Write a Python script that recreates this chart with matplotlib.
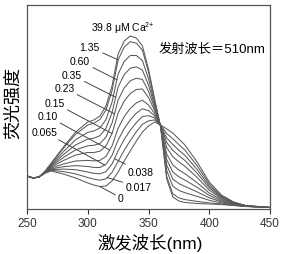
import numpy as np
import matplotlib
matplotlib.use("Agg")
import matplotlib.pyplot as plt

plt.rcParams['font.family'] = ['Liberation Sans', 'Noto Sans CJK SC', 'DejaVu Sans']
plt.rcParams['mathtext.fontset'] = 'custom'
plt.rcParams['mathtext.rm'] = 'Liberation Sans'
plt.rcParams['mathtext.it'] = 'Liberation Sans:italic'

# excitation wavelength (nm)
wl = [250, 255, 260, 265, 270, 280, 290, 300, 305, 310, 315, 320, 325, 330, 335,
      340, 345, 350, 355, 360, 365, 370, 375, 380, 390, 400, 410, 420, 430, 440, 450]

# fluorescence intensity (arb.) for each [Ca2+]
i_0 = [33, 31, 32, 36, 38, 35, 31, 26, 24, 22.5, 23, 28, 37, 48, 58,
       68, 77, 83, 87, 84, 80, 76, 70, 64, 47, 27, 14, 7, 3.5, 2.5, 1.5]
i_0017 = [33, 31, 32, 36.2, 38.7, 37.4, 35.1, 31.5, 29.9, 28.8, 30.2, 36.6, 47.6, 58.8, 68.4,
          77.3, 84.7, 88.1, 89.1, 83.8, 75.5, 70.2, 64.4, 58.8, 43.3, 25.0, 13.1, 6.7, 3.4, 2.5, 1.5]
i_0038 = [33, 31, 32, 36.4, 39.4, 39.9, 39.3, 37.0, 35.7, 35.2, 37.4, 45.1, 58.2, 69.6, 78.7,
          86.5, 92.5, 93.3, 91.1, 83.6, 71, 64.5, 58.8, 53.7, 39.5, 23.0, 12.3, 6.4, 3.3, 2.4, 1.5]
i_0065 = [33, 31, 32, 36.5, 40.2, 42.3, 43.4, 42.5, 41.6, 41.5, 44.6, 53.7, 68.9, 80.4, 89.1,
          95.8, 100.2, 98.4, 93.2, 83.5, 66.5, 58.7, 53.3, 48.5, 35.8, 21.1, 11.4, 6.1, 3.2, 2.4, 1.5]
i_010 = [33, 31, 32, 36.7, 41.0, 45.0, 48.0, 48.6, 48.1, 48.6, 52.6, 63.2, 80.7, 92.4, 100.6,
         106.1, 108.8, 104.1, 95.5, 83.3, 61.5, 52.3, 47.1, 42.7, 31.6, 18.9, 10.5, 5.7, 3.1, 2.3, 1.5]
i_015 = [33, 31, 32, 37, 42, 48.5, 54, 56.5, 56.5, 57.8, 63, 75.5, 96, 108, 115.5,
         119.5, 120, 111.5, 98.5, 83, 55, 44, 39, 35.3, 26.3, 16, 9.3, 5.3, 3.0, 2.3, 1.5]
i_023 = [33, 31, 32, 37.2, 42.9, 51.5, 59.1, 63.2, 63.7, 65.5, 71.8, 86.0, 109.0, 121.2, 128.2,
         130.8, 129.5, 117.8, 101.0, 82.8, 49.5, 37.0, 32.2, 28.9, 21.7, 13.6, 8.2, 4.9, 2.9, 2.2, 1.5]
i_035 = [33, 31, 32, 37.4, 43.8, 54.4, 64.1, 69.9, 70.8, 73.3, 80.6, 96.4, 122.0, 134.4, 140.8,
         142.2, 138.9, 124.0, 103.6, 82.6, 44, 29.9, 25.4, 22.6, 17.1, 11.2, 7.2, 4.5, 2.8, 2.1, 1.5]
i_060 = [33, 31, 32, 37.7, 44.6, 57.4, 69.2, 76.6, 78.0, 81.0, 89.4, 106.9, 134.9, 147.6, 153.5,
         153.5, 148.4, 130.3, 106.1, 82.3, 38.5, 22.9, 18.5, 16.3, 12.6, 8.7, 6.1, 4.1, 2.7, 2.1, 1.5]
i_135 = [33, 31, 32, 37.9, 45.6, 60.7, 74.7, 84.0, 85.8, 89.5, 99, 118.3, 149.1, 162, 167.3,
         165.9, 158.7, 137.2, 108.9, 82.1, 32.5, 15.2, 11.1, 9.4, 7.6, 6.1, 5.0, 3.7, 2.6, 2.0, 1.5]
i_398 = [33, 31, 32, 38, 46, 62, 77, 87, 89, 93, 103, 123, 155, 168, 173,
         171, 163, 140, 110, 82, 30, 12, 8, 6.5, 5.5, 5, 4.5, 3.5, 2.5, 2, 1.5]

curves = [i_0, i_0017, i_0038, i_0065, i_010, i_015, i_023, i_035, i_060, i_135, i_398]

# labels on the left
left_labels = ['1.35', '0.60', '0.35', '0.23', '0.15', '0.10', '0.065']
left_curves = [i_135, i_060, i_035, i_023, i_015, i_010, i_0065]
# labels at the bottom right
right_labels = ['0.038', '0.017', '0']
right_curves = [i_0038, i_0017, i_0]

fig = plt.figure(figsize=(2.83, 2.55), dpi=100)
ax = fig.add_axes([27 / 283, 45 / 255, 243 / 283, 204 / 255])

for c in curves:
    ax.plot(wl, c, color='#5a5a5a', lw=0.75)

ax.set_xlim(250, 450)
ax.set_ylim(0, 204)
ax.set_xticks([250, 300, 350, 400, 450])
ax.set_yticks([])
ax.tick_params(axis='x', direction='out', length=3.5, width=0.8, labelsize=8.5,
               pad=2, colors='#333333')
for s in ax.spines.values():
    s.set_color('#555555')
    s.set_linewidth(0.9)

# text position and where the leader meets the curve
lx = [310, 302, 295, 289, 281, 275, 275]
ly = [162, 148, 134, 121, 106, 93, 77]
lend = [325, 324, 323, 322, 320, 318, 314]
for t, c, x, y, xe in zip(left_labels, left_curves, lx, ly, lend):
    ax.annotate(t, xy=(xe, np.interp(xe, wl, c)), xytext=(x, y),
                ha='right', va='center', fontsize=7.5,
                arrowprops=dict(arrowstyle='-', color='#444444', lw=0.7,
                                shrinkA=0, shrinkB=0))

rx = [333, 331, 325]
ry = [37, 22, 11]
rend = [322, 316, 310]
for t, c, x, y, xs in zip(right_labels, right_curves, rx, ry, rend):
    ax.annotate(t, xy=(xs, np.interp(xs, wl, c)), xytext=(x, y),
                ha='left', va='center', fontsize=7.5,
                arrowprops=dict(arrowstyle='-', color='#444444', lw=0.7,
                                shrinkA=0, shrinkB=0))

ax.text(329, 182, r'39.8 μM Ca$^{2{+}}$', ha='center', va='center', fontsize=7.5)
ax.text(358, 160, '发射波长＝510nm', ha='left', va='center', fontsize=9.5)

fig.text(14 / 283, 1 - 103 / 255, '荧光强度', rotation=90, ha='center', va='center',
         fontsize=13)
fig.text(150 / 283, 1 - 243 / 255, '激发波长(nm)', ha='center', va='center', fontsize=12.5)

fig.savefig('out.png', dpi=100)
